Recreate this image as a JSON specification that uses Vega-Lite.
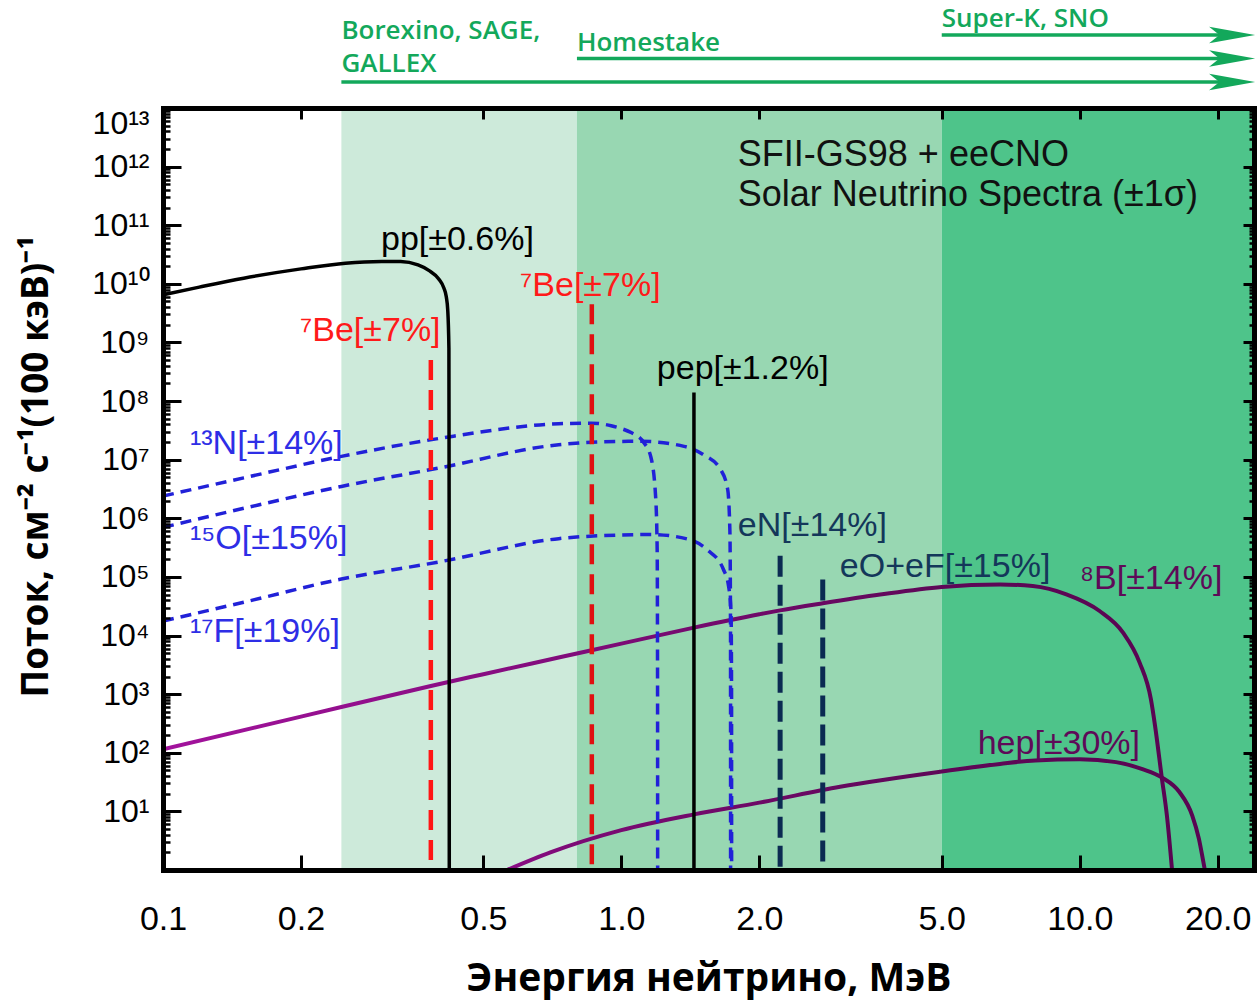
{
  "$schema": "https://vega.github.io/schema/vega-lite/v6.json",
  "width": 1091,
  "height": 762,
  "autosize": {"type": "none"},
  "padding": {"left": 163, "top": 108, "right": 3, "bottom": 133},
  "background": "white",
  "config": {"view": {"stroke": null}},
  "datasets": {
    "regions": [
      {"experiment": "Ga", "from": 0.245, "to": 0.8},
      {"experiment": "Cl", "from": 0.8, "to": 5},
      {"experiment": "Water", "from": 5, "to": 24}
    ],
    "curves": [
      {"source": "pp", "E": 0.1, "flux": 6.5e9},
      {"source": "pp", "E": 0.12, "flux": 8.8e9},
      {"source": "pp", "E": 0.15, "flux": 1.25e10},
      {"source": "pp", "E": 0.2, "flux": 1.8e10},
      {"source": "pp", "E": 0.25, "flux": 2.25e10},
      {"source": "pp", "E": 0.3, "flux": 2.4e10},
      {"source": "pp", "E": 0.33, "flux": 2.4e10},
      {"source": "pp", "E": 0.36, "flux": 2.1e10},
      {"source": "pp", "E": 0.38, "flux": 1.7e10},
      {"source": "pp", "E": 0.4, "flux": 1.2e10},
      {"source": "pp", "E": 0.41, "flux": 8.5e9},
      {"source": "pp", "E": 0.415, "flux": 6e9},
      {"source": "pp", "E": 0.418, "flux": 3.6e9},
      {"source": "pp", "E": 0.4205, "flux": 8e8},
      {"source": "pp", "E": 0.421, "flux": 1e6},
      {"source": "pp", "E": 0.4213, "flux": 1},
      {"source": "13N", "E": 0.1, "flux": 2.4e6},
      {"source": "13N", "E": 0.15, "flux": 4.9e6},
      {"source": "13N", "E": 0.245, "flux": 1.14e7},
      {"source": "13N", "E": 0.4, "flux": 2.3e7},
      {"source": "13N", "E": 0.73, "flux": 4.1e7},
      {"source": "13N", "E": 0.86, "flux": 4.2e7},
      {"source": "13N", "E": 0.95, "flux": 3.8e7},
      {"source": "13N", "E": 1.0, "flux": 3.4e7},
      {"source": "13N", "E": 1.05, "flux": 2.9e7},
      {"source": "13N", "E": 1.12, "flux": 1.95e7},
      {"source": "13N", "E": 1.16, "flux": 1.1e7},
      {"source": "13N", "E": 1.188, "flux": 2.3e6},
      {"source": "13N", "E": 1.197, "flux": 3e5},
      {"source": "13N", "E": 1.1995, "flux": 1e3},
      {"source": "13N", "E": 1.2, "flux": 1},
      {"source": "15O", "E": 0.1, "flux": 7e5},
      {"source": "15O", "E": 0.15, "flux": 1.48e6},
      {"source": "15O", "E": 0.245, "flux": 3.5e6},
      {"source": "15O", "E": 0.4, "flux": 7.2e6},
      {"source": "15O", "E": 0.73, "flux": 1.8e7},
      {"source": "15O", "E": 1.0, "flux": 2.05e7},
      {"source": "15O", "E": 1.1, "flux": 2.06e7},
      {"source": "15O", "E": 1.37, "flux": 1.69e7},
      {"source": "15O", "E": 1.51, "flux": 1.22e7},
      {"source": "15O", "E": 1.646, "flux": 6.8e6},
      {"source": "15O", "E": 1.706, "flux": 3.1e6},
      {"source": "15O", "E": 1.725, "flux": 6e5},
      {"source": "15O", "E": 1.7305, "flux": 1e4},
      {"source": "15O", "E": 1.731, "flux": 1},
      {"source": "17F", "E": 0.1, "flux": 1.77e4},
      {"source": "17F", "E": 0.15, "flux": 3.7e4},
      {"source": "17F", "E": 0.245, "flux": 9.2e4},
      {"source": "17F", "E": 0.4, "flux": 1.8e5},
      {"source": "17F", "E": 0.73, "flux": 4.5e5},
      {"source": "17F", "E": 1.0, "flux": 5.2e5},
      {"source": "17F", "E": 1.16, "flux": 5.3e5},
      {"source": "17F", "E": 1.4, "flux": 4.4e5},
      {"source": "17F", "E": 1.54, "flux": 2.9e5},
      {"source": "17F", "E": 1.67, "flux": 1.34e5},
      {"source": "17F", "E": 1.714, "flux": 6.9e4},
      {"source": "17F", "E": 1.735, "flux": 2.5e4},
      {"source": "17F", "E": 1.7395, "flux": 1e3},
      {"source": "17F", "E": 1.74, "flux": 1},
      {"source": "8B", "E": 0.1, "flux": 115},
      {"source": "8B", "E": 0.2, "flux": 414},
      {"source": "8B", "E": 0.384, "flux": 1380},
      {"source": "8B", "E": 0.5, "flux": 2190},
      {"source": "8B", "E": 0.738, "flux": 4300},
      {"source": "8B", "E": 1.0, "flux": 7280},
      {"source": "8B", "E": 1.44, "flux": 13650},
      {"source": "8B", "E": 2.0, "flux": 23070},
      {"source": "8B", "E": 2.22, "flux": 26900},
      {"source": "8B", "E": 2.75, "flux": 35500},
      {"source": "8B", "E": 3.67, "flux": 50100},
      {"source": "8B", "E": 5.0, "flux": 67600},
      {"source": "8B", "E": 6.7, "flux": 74500},
      {"source": "8B", "E": 7.9, "flux": 69700},
      {"source": "8B", "E": 9.35, "flux": 50350},
      {"source": "8B", "E": 11.05, "flux": 26200},
      {"source": "8B", "E": 12.43, "flux": 11220},
      {"source": "8B", "E": 13.51, "flux": 3450},
      {"source": "8B", "E": 14.3, "flux": 813},
      {"source": "8B", "E": 14.6, "flux": 288},
      {"source": "8B", "E": 15.1, "flux": 38},
      {"source": "8B", "E": 15.5, "flux": 8.3},
      {"source": "8B", "E": 15.9, "flux": 1},
      {"source": "hep", "E": 0.563, "flux": 1},
      {"source": "hep", "E": 0.7, "flux": 2.0},
      {"source": "hep", "E": 1.0, "flux": 4.8},
      {"source": "hep", "E": 1.44, "flux": 8.9},
      {"source": "hep", "E": 2.0, "flux": 14.1},
      {"source": "hep", "E": 3.0, "flux": 26.3},
      {"source": "hep", "E": 5.0, "flux": 47.9},
      {"source": "hep", "E": 6.7, "flux": 64.6},
      {"source": "hep", "E": 8.0, "flux": 74.1},
      {"source": "hep", "E": 10.0, "flux": 77.6},
      {"source": "hep", "E": 12.0, "flux": 69.2},
      {"source": "hep", "E": 13.7, "flux": 52.5},
      {"source": "hep", "E": 15.1, "flux": 38},
      {"source": "hep", "E": 16.5, "flux": 21.4},
      {"source": "hep", "E": 17.6, "flux": 8.5},
      {"source": "hep", "E": 18.2, "flux": 3.4},
      {"source": "hep", "E": 18.6, "flux": 1.4},
      {"source": "hep", "E": 18.75, "flux": 1}
    ],
    "lines": [
      {"group": "7Be", "line": "7Be-0.384", "E": 0.384, "flux": 5e8},
      {"group": "7Be", "line": "7Be-0.862", "E": 0.862, "flux": 4.5e9},
      {"group": "pep", "line": "pep", "E": 1.44, "flux": 1.4e8},
      {"group": "eCNO", "line": "eN", "E": 2.22, "flux": 2.3e5},
      {"group": "eCNO", "line": "eO+eF", "E": 2.75, "flux": 9e4}
    ],
    "labels": [
      {"text": "pp[±0.6%]", "E": 0.299, "flux": 5.7e10, "family": "pp"},
      {"text": "⁷Be[±7%]", "E": 0.199, "flux": 1.55e9, "family": "Be7"},
      {"text": "⁷Be[±7%]", "E": 0.601, "flux": 9.1e9, "family": "Be7"},
      {"text": "pep[±1.2%]", "E": 1.195, "flux": 3.47e8, "family": "pp"},
      {"text": "¹³N[±14%]", "E": 0.1145, "flux": 1.82e7, "family": "CNO"},
      {"text": "¹⁵O[±15%]", "E": 0.1145, "flux": 4.37e5, "family": "CNO"},
      {"text": "¹⁷F[±19%]", "E": 0.1145, "flux": 1.17e4, "family": "CNO"},
      {"text": "eN[±14%]", "E": 1.795, "flux": 7.25e5, "family": "eCNO"},
      {"text": "eO+eF[±15%]", "E": 2.997, "flux": 1.45e5, "family": "eCNO"},
      {"text": "⁸B[±14%]", "E": 10.0, "flux": 9.06e4, "family": "B8"},
      {"text": "hep[±30%]", "E": 5.99, "flux": 139, "family": "B8"},
      {"text": "SFII-GS98 + eeCNO", "E": 1.795, "flux": 1.56e12, "family": "header"},
      {"text": "Solar Neutrino Spectra (±1σ)", "E": 1.795, "flux": 3.23e11, "family": "header"}
    ],
    "detectors": [
      {"name": "Super-K, SNO", "start": 5.0, "end": 21.5, "tier": 1},
      {"name": "Homestake", "start": 0.8, "end": 21.5, "tier": 2},
      {"name": "Borexino, SAGE,|GALLEX", "start": 0.245, "end": 21.5, "tier": 3}
    ]
  },
  "layer": [
    {
      "data": {"name": "regions"},
      "mark": {"type": "rect"},
      "encoding": {
        "x": {
          "field": "from", "type": "quantitative",
          "scale": {"type": "log", "domain": [0.1, 24]},
          "axis": {
            "orient": "bottom", "values": [0.1, 0.2, 0.5, 1, 2, 5, 10, 20], "format": ".1f",
            "labelFont": "Liberation Sans", "labelFontSize": 34, "labelColor": "black", "labelPadding": 32,
            "labelFlush": false, "labelOverlap": false,
            "ticks": true, "tickSize": 0, "tickWidth": 0,
            "domain": true, "domainColor": "black", "domainWidth": 5, "domainCap": "square",
            "grid": false,
            "title": "Энергия нейтрино, МэВ", "titleFont": "Open Sans", "titleFontWeight": "bold",
            "titleFontSize": 39, "titleColor": "black", "titlePadding": 23,
            "zindex": 1
          }
        },
        "x2": {"field": "to"},
        "color": {
          "field": "experiment", "type": "nominal",
          "scale": {"domain": ["Ga", "Cl", "Water"], "range": ["#cdeada", "#98d7b2", "#4ec48a"]},
          "legend": null
        }
      }
    },
    {
      "data": {"name": "curves"},
      "transform": [{"filter": "datum.source === '8B'"}],
      "mark": {
        "type": "line", "interpolate": "monotone", "strokeWidth": 4, "clip": true,
        "stroke": {"gradient": "linear", "x1": 0, "y1": 0, "x2": 1, "y2": 0,
          "stops": [
            {"offset": 0, "color": "#a3139d"},
            {"offset": 0.41, "color": "#800b7a"},
            {"offset": 0.773, "color": "#5e0757"},
            {"offset": 1, "color": "#590552"}
          ]}
      },
      "encoding": {
        "x": {"field": "E", "type": "quantitative", "scale": {"type": "log", "domain": [0.1, 24]}, "axis": null},
        "y": {
          "field": "flux", "type": "quantitative", "scale": {"type": "log", "domain": [1, 1e13]},
          "axis": {
            "orient": "left", "labels": false, "domain": false, "grid": false, "title": null,
            "ticks": true, "tickSize": -7, "tickWidth": 2.5, "tickColor": "black", "zindex": 1,
            "values": [2,3,4,5,6,7,8,9,20,30,40,50,60,70,80,90,200,300,400,500,600,700,800,900,
              2e3,3e3,4e3,5e3,6e3,7e3,8e3,9e3,2e4,3e4,4e4,5e4,6e4,7e4,8e4,9e4,
              2e5,3e5,4e5,5e5,6e5,7e5,8e5,9e5,2e6,3e6,4e6,5e6,6e6,7e6,8e6,9e6,
              2e7,3e7,4e7,5e7,6e7,7e7,8e7,9e7,2e8,3e8,4e8,5e8,6e8,7e8,8e8,9e8,
              2e9,3e9,4e9,5e9,6e9,7e9,8e9,9e9,2e10,3e10,4e10,5e10,6e10,7e10,8e10,9e10,
              2e11,3e11,4e11,5e11,6e11,7e11,8e11,9e11,2e12,3e12,4e12,5e12,6e12,7e12,8e12,9e12]
          }
        }
      }
    },
    {
      "data": {"name": "curves"},
      "transform": [{"filter": "datum.source === 'hep'"}],
      "mark": {
        "type": "line", "interpolate": "monotone", "strokeWidth": 4, "clip": true,
        "stroke": {"gradient": "linear", "x1": 0, "y1": 0, "x2": 1, "y2": 0,
          "stops": [
            {"offset": 0, "color": "#8a0d84"},
            {"offset": 0.1, "color": "#7c0a75"},
            {"offset": 0.624, "color": "#5e0757"},
            {"offset": 1, "color": "#590552"}
          ]}
      },
      "encoding": {
        "x": {"field": "E", "type": "quantitative", "scale": {"type": "log", "domain": [0.1, 24]}, "axis": null},
        "y": {
          "field": "flux", "type": "quantitative", "scale": {"type": "log", "domain": [1, 1e13]},
          "axis": {
            "orient": "right", "labels": false, "grid": false, "title": null,
            "domain": true, "domainColor": "black", "domainWidth": 5, "domainCap": "square",
            "ticks": true, "tickSize": -11, "tickWidth": 3, "tickColor": "black", "zindex": 1,
            "values": [1,10,100,1e3,1e4,1e5,1e6,1e7,1e8,1e9,1e10,1e11,1e12,1e13]
          }
        }
      }
    },
    {
      "data": {"name": "curves"},
      "transform": [{"filter": "datum.source === '13N' || datum.source === '15O' || datum.source === '17F'"}],
      "mark": {"type": "line", "interpolate": "monotone", "strokeWidth": 3.5, "strokeDash": [11, 7], "color": "#2121d8", "clip": true},
      "encoding": {
        "detail": {"field": "source", "type": "nominal"},
        "x": {
          "field": "E", "type": "quantitative", "scale": {"type": "log", "domain": [0.1, 24]},
          "axis": {
            "orient": "bottom", "labels": false, "domain": false, "grid": false, "title": null,
            "ticks": true, "tickSize": -15, "tickWidth": 3, "tickColor": "black", "zindex": 1,
            "values": [0.1, 0.2, 0.5, 1, 2, 5, 10, 20]
          }
        },
        "y": {
          "field": "flux", "type": "quantitative", "scale": {"type": "log", "domain": [1, 1e13]},
          "axis": {
            "orient": "left", "labels": false, "domain": false, "grid": false, "title": null,
            "ticks": true, "tickSize": -18, "tickWidth": 3, "tickColor": "black", "zindex": 1,
            "values": [1,10,100,1e3,1e4,1e5,1e6,1e7,1e8,1e9,1e10,1e11,1e12,1e13]
          }
        }
      }
    },
    {
      "data": {"name": "curves"},
      "transform": [{"filter": "datum.source === 'pp'"}],
      "mark": {"type": "line", "interpolate": "monotone", "strokeWidth": 3.5, "color": "black", "clip": true},
      "encoding": {
        "x": {
          "field": "E", "type": "quantitative", "scale": {"type": "log", "domain": [0.1, 24]},
          "axis": {
            "orient": "top", "labels": false, "grid": false, "title": null,
            "domain": true, "domainColor": "black", "domainWidth": 5, "domainCap": "square",
            "ticks": true, "tickSize": -11, "tickWidth": 3, "tickColor": "black", "zindex": 1,
            "values": [0.1, 0.2, 0.5, 1, 2, 5, 10, 20]
          }
        },
        "y": {
          "field": "flux", "type": "quantitative", "scale": {"type": "log", "domain": [1, 1e13]},
          "axis": {
            "orient": "left",
            "values": [10,100,1e3,1e4,1e5,1e6,1e7,1e8,1e9,1e10,1e11,1e12,1e13],
            "labelExpr": "'10' + (round(log(datum.value)/LN10) >= 10 ? '¹' + ['⁰','¹','²','³'][round(log(datum.value)/LN10) - 10] : ['⁰','¹','²','³','⁴','⁵','⁶','⁷','⁸','⁹'][round(log(datum.value)/LN10)])",
            "labelFont": "Liberation Sans", "labelFontSize": 32, "labelColor": "black",
            "labelPadding": 14, "labelFlush": true, "labelOverlap": false,
            "ticks": true, "tickSize": 0, "tickWidth": 0,
            "domain": true, "domainColor": "black", "domainWidth": 5, "domainCap": "square",
            "grid": false,
            "title": "Поток, см⁻² с⁻¹(100 кэВ)⁻¹", "titleFont": "Open Sans", "titleFontWeight": "bold",
            "titleFontSize": 37, "titleColor": "black", "titlePadding": 36, "titleY": 358,
            "zindex": 1
          }
        }
      }
    },
    {
      "data": {"name": "lines"},
      "transform": [{"filter": "datum.group === '7Be'"}],
      "mark": {"type": "rule", "strokeWidth": 4.5, "strokeDash": [20, 10], "clip": true},
      "encoding": {
        "x": {"field": "E", "type": "quantitative", "scale": {"type": "log", "domain": [0.1, 24]}, "axis": null},
        "y": {
          "field": "flux", "type": "quantitative", "scale": {"type": "log", "domain": [1, 1e13]},
          "axis": {
            "orient": "right", "labels": false, "domain": false, "grid": false, "title": null,
            "ticks": true, "tickSize": -5, "tickWidth": 2.5, "tickColor": "black", "zindex": 1,
            "values": [2,3,4,5,6,7,8,9,20,30,40,50,60,70,80,90,200,300,400,500,600,700,800,900,
              2e3,3e3,4e3,5e3,6e3,7e3,8e3,9e3,2e4,3e4,4e4,5e4,6e4,7e4,8e4,9e4,
              2e5,3e5,4e5,5e5,6e5,7e5,8e5,9e5,2e6,3e6,4e6,5e6,6e6,7e6,8e6,9e6,
              2e7,3e7,4e7,5e7,6e7,7e7,8e7,9e7,2e8,3e8,4e8,5e8,6e8,7e8,8e8,9e8,
              2e9,3e9,4e9,5e9,6e9,7e9,8e9,9e9,2e10,3e10,4e10,5e10,6e10,7e10,8e10,9e10,
              2e11,3e11,4e11,5e11,6e11,7e11,8e11,9e11,2e12,3e12,4e12,5e12,6e12,7e12,8e12,9e12]
          }
        },
        "y2": {"datum": 1},
        "color": {"field": "line", "type": "nominal", "scale": {"domain": ["7Be-0.384", "7Be-0.862"], "range": ["#ff1515", "#e01010"]}, "legend": null}
      }
    },
    {
      "data": {"name": "lines"},
      "transform": [{"filter": "datum.group === 'pep'"}],
      "mark": {"type": "rule", "strokeWidth": 3.5, "color": "black", "clip": true},
      "encoding": {
        "x": {"field": "E", "type": "quantitative", "scale": {"type": "log", "domain": [0.1, 24]}, "axis": null},
        "y": {"field": "flux", "type": "quantitative", "scale": {"type": "log", "domain": [1, 1e13]}, "axis": null},
        "y2": {"datum": 1}
      }
    },
    {
      "data": {"name": "lines"},
      "transform": [{"filter": "datum.group === 'eCNO'"}],
      "mark": {"type": "rule", "strokeWidth": 5, "strokeDash": [21, 8], "color": "#0b2a52", "clip": true},
      "encoding": {
        "x": {"field": "E", "type": "quantitative", "scale": {"type": "log", "domain": [0.1, 24]}, "axis": null},
        "y": {"field": "flux", "type": "quantitative", "scale": {"type": "log", "domain": [1, 1e13]}, "axis": null},
        "y2": {"datum": 1}
      }
    },
    {
      "data": {"name": "labels"},
      "transform": [{"filter": "datum.family !== 'header'"}],
      "mark": {"type": "text", "align": "left", "baseline": "middle", "font": "Liberation Sans", "fontSize": 34},
      "encoding": {
        "x": {"field": "E", "type": "quantitative", "scale": {"type": "log", "domain": [0.1, 24]}, "axis": null},
        "y": {"field": "flux", "type": "quantitative", "scale": {"type": "log", "domain": [1, 1e13]}, "axis": null},
        "text": {"field": "text", "type": "nominal"},
        "color": {
          "field": "family", "type": "nominal",
          "scale": {"domain": ["pp", "Be7", "CNO", "eCNO", "B8"], "range": ["#000000", "#ff1a1a", "#2e2ee6", "#14375a", "#5e0a58"]},
          "legend": null
        }
      }
    },
    {
      "data": {"name": "labels"},
      "transform": [{"filter": "datum.family === 'header'"}],
      "mark": {"type": "text", "align": "left", "baseline": "middle", "font": "Liberation Sans", "fontSize": 36, "color": "#111111"},
      "encoding": {
        "x": {"field": "E", "type": "quantitative", "scale": {"type": "log", "domain": [0.1, 24]}, "axis": null},
        "y": {"field": "flux", "type": "quantitative", "scale": {"type": "log", "domain": [1, 1e13]}, "axis": null},
        "text": {"field": "text", "type": "nominal"}
      }
    },
    {
      "data": {"name": "detectors"},
      "mark": {"type": "rule", "strokeWidth": 3.5, "color": "#13a85b"},
      "encoding": {
        "x": {"field": "start", "type": "quantitative", "scale": {"type": "log", "domain": [0.1, 24]}, "axis": null},
        "x2": {"field": "end"},
        "y": {"field": "tier", "type": "ordinal", "scale": {"type": "point", "domain": [1, 2, 3], "range": [-73, -26], "padding": 0}, "axis": null}
      }
    },
    {
      "data": {"name": "detectors"},
      "mark": {"type": "point", "shape": "M1,0L-1,-0.36L-0.55,0L-1,0.36Z", "size": 2116, "filled": true, "color": "#13a85b", "opacity": 1, "strokeWidth": 0},
      "encoding": {
        "x": {"field": "end", "type": "quantitative", "scale": {"type": "log", "domain": [0.1, 24]}, "axis": null},
        "y": {"field": "tier", "type": "ordinal", "scale": {"type": "point", "domain": [1, 2, 3], "range": [-73, -26], "padding": 0}, "axis": null}
      }
    },
    {
      "data": {"name": "detectors"},
      "transform": [{"filter": "datum.tier !== 3"}],
      "mark": {"type": "text", "align": "left", "baseline": "bottom", "dy": -3, "font": "Open Sans", "fontWeight": 600, "fontSize": 26, "color": "#13a85b"},
      "encoding": {
        "x": {"field": "start", "type": "quantitative", "scale": {"type": "log", "domain": [0.1, 24]}, "axis": null},
        "y": {"field": "tier", "type": "ordinal", "scale": {"type": "point", "domain": [1, 2, 3], "range": [-73, -26], "padding": 0}, "axis": null},
        "text": {"field": "name", "type": "nominal"}
      }
    },
    {
      "data": {"name": "detectors"},
      "transform": [{"filter": "datum.tier === 3"}],
      "mark": {"type": "text", "align": "left", "baseline": "bottom", "dy": -38, "font": "Open Sans", "fontWeight": 600, "fontSize": 26, "color": "#13a85b", "lineBreak": "|", "lineHeight": 33},
      "encoding": {
        "x": {"field": "start", "type": "quantitative", "scale": {"type": "log", "domain": [0.1, 24]}, "axis": null},
        "y": {"field": "tier", "type": "ordinal", "scale": {"type": "point", "domain": [1, 2, 3], "range": [-73, -26], "padding": 0}, "axis": null},
        "text": {"field": "name", "type": "nominal"}
      }
    }
  ],
  "resolve": {
    "scale": {"y": "independent", "color": "independent"},
    "axis": {"x": "independent", "y": "independent"}
  }
}
